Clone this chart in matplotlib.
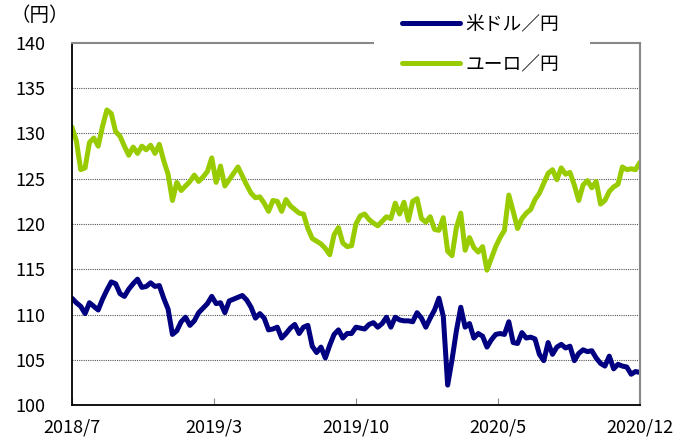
import matplotlib
matplotlib.use("Agg")
import matplotlib.pyplot as plt
from matplotlib.patches import Rectangle
import numpy as np

# weekly values, 2018/7 .. 2020/12
usd_jpy = [
    111.8, 111.3, 110.9, 110.1, 111.3, 110.9, 110.5, 111.7, 112.7, 113.6,
    113.4, 112.3, 112.0, 112.8, 113.4, 113.9, 113.0, 113.1, 113.5, 113.1,
    113.2, 111.8, 110.6, 107.8, 108.2, 109.2, 109.7, 108.8, 109.3, 110.2,
    110.7, 111.2, 112.0, 111.2, 111.3, 110.2, 111.5, 111.7, 111.9, 112.1,
    111.6, 110.8, 109.6, 110.1, 109.6, 108.3, 108.4, 108.6, 107.4, 107.9,
    108.5, 108.9, 107.9, 108.6, 108.8, 106.5, 105.8, 106.4, 105.2, 106.6,
    107.8, 108.3, 107.4, 107.9, 107.9, 108.6, 108.5, 108.4, 108.9, 109.1,
    108.6, 109.0, 109.7, 108.6, 109.7, 109.4, 109.3, 109.3, 109.2, 110.2,
    109.6, 108.6, 109.6, 110.5, 111.8, 109.8, 102.2, 105.0, 108.2, 110.8,
    108.6, 109.0, 107.4, 107.9, 107.6, 106.4, 107.2, 107.8, 107.9, 107.8,
    109.2, 106.9, 106.8, 108.0, 107.4, 107.5, 107.3, 105.6, 104.9, 106.9,
    105.6, 106.4, 106.7, 106.3, 106.5, 104.9, 105.7, 106.1, 105.9, 106.0,
    105.2, 104.6, 104.3, 105.4, 104.0, 104.5, 104.3, 104.2, 103.4, 103.7,
    103.6,
]
eur_jpy = [
    130.7, 129.2, 126.0, 126.2, 129.0, 129.5, 128.6, 130.8, 132.6, 132.2,
    130.2, 129.7, 128.6, 127.6, 128.5, 127.8, 128.6, 128.2, 128.7, 127.8,
    128.8, 127.0, 125.5, 122.6, 124.6, 123.7, 124.2, 124.7, 125.4, 124.7,
    125.2, 125.8, 127.3, 124.6, 126.4, 124.2, 124.9, 125.6, 126.3, 125.3,
    124.3, 123.4, 122.9, 123.0, 122.3, 121.4, 122.6, 122.5, 121.4, 122.7,
    122.0, 121.6, 121.2, 121.1, 119.5, 118.4, 118.1, 117.8, 117.3, 116.6,
    118.8, 119.6, 117.9, 117.5, 117.6, 120.0, 120.9, 121.1, 120.5, 120.1,
    119.8, 120.3, 120.8, 120.6, 122.3, 121.1, 122.4, 120.4, 122.5, 122.8,
    120.6, 120.2, 120.8, 119.4, 119.3, 120.7, 117.0, 116.5, 119.6, 121.2,
    117.1, 118.5, 117.4, 116.9, 117.5, 114.9, 116.2, 117.5, 118.5, 119.3,
    123.2, 121.4, 119.5, 120.6, 121.2, 121.6, 122.7, 123.4, 124.5, 125.6,
    126.0, 124.9, 126.2, 125.5, 125.7, 124.3, 122.6, 124.3, 124.8, 124.0,
    124.7, 122.2, 122.6, 123.6, 124.1, 124.4, 126.3, 126.0, 126.1, 126.0,
    126.8,
]
tick_labels = ["2018/7", "2019/3", "2019/10", "2020/5", "2020/12"]
series_names = ["米ドル／円", "ユーロ／円"]

plt.rcParams["font.family"] = ["Noto Sans CJK JP", "DejaVu Sans"]

fig = plt.figure(figsize=(6.94, 4.44), dpi=100)
ax = fig.add_axes([0.1037, 0.0878, 0.8183, 0.8154])

x = np.arange(len(usd_jpy))
l1, = ax.plot(x, usd_jpy, color="#000080", lw=3.6, solid_capstyle="round",
              solid_joinstyle="round")
l2, = ax.plot(x, eur_jpy, color="#99CC00", lw=3.6, solid_capstyle="round",
              solid_joinstyle="round")

ax.set_xlim(0, len(x) - 1)
ax.set_ylim(100, 140)
ax.set_yticks(np.arange(100, 141, 5))
ax.set_xticks(np.linspace(0, len(x) - 1, len(tick_labels)))
ax.set_xticklabels(tick_labels)

for y in range(105, 140, 5):
    ax.axhline(y, color="#555555", lw=0.8, ls=(0, (1, 1)), zorder=0)

ax.tick_params(axis="x", direction="in", length=5, pad=10, labelsize=13,
               color="#888888")
ax.tick_params(axis="y", length=0, pad=19, labelsize=13)

ax.spines["left"].set_color("black")
ax.spines["bottom"].set_color("black")
ax.spines["left"].set_linewidth(1.3)
ax.spines["bottom"].set_linewidth(1.3)
ax.spines["top"].set_color("#888888")
ax.spines["right"].set_color("#888888")
ax.spines["top"].set_linewidth(1.5)
ax.spines["right"].set_linewidth(1.5)

fig.text(0.0145, 0.965, "（円）", fontsize=14, va="center", ha="left")

# white box behind the legend, breaking the top frame line
fig.add_artist(Rectangle((374 / 694, 1 - 50 / 444), 216 / 694, 50 / 444,
                         transform=fig.transFigure, facecolor="white",
                         edgecolor="none", zorder=5))

leg = fig.legend([l1, l2], series_names, loc="upper left",
                 bbox_to_anchor=(0.555, 1.008), frameon=False, fontsize=13.5,
                 handlelength=3.1, handletextpad=0.3, labelspacing=1.05,
                 borderpad=0.4)
leg.set_zorder(10)

fig.savefig("out.png", dpi=100)
